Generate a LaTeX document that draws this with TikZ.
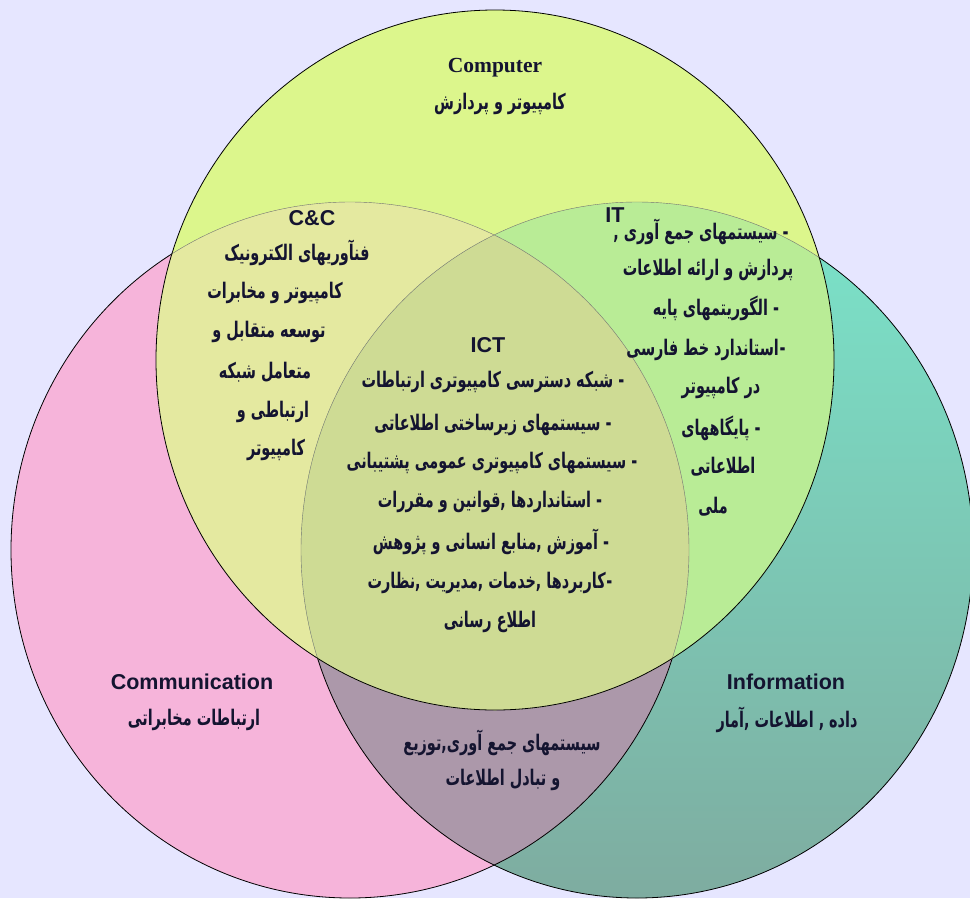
\documentclass[tikz,border=0pt]{standalone}
\usepackage{graphicx}
\usepackage{fontspec}
\setmainfont{Liberation Sans}
\newfontfamily\serifb{Liberation Serif}
\newfontfamily\fa[Script=Arabic]{DejaVu Sans}
\TeXXeTstate=1
\newcommand\RR[1]{\scalebox{0.67}[1]{\beginR #1\endR}}
\definecolor{bg}{HTML}{E6E6FF}
\definecolor{yel}{HTML}{DCF68C}
\definecolor{pnk}{HTML}{F6B4DA}
\definecolor{tealtop}{HTML}{7AE4CA}
\definecolor{tealbot}{HTML}{7EACA0}
\definecolor{lens}{HTML}{AC98AA}
\definecolor{ccreg}{HTML}{E4E9A0}
\definecolor{itreg}{HTML}{B9EC96}
\definecolor{ictreg}{HTML}{CEDB94}
\definecolor{txt}{HTML}{141430}
\tikzset{
  fatext/.style={font=\fa\bfseries\fontsize{21.5}{21.5}\selectfont, text=txt, inner sep=0pt, anchor=center},
  entext/.style={font=\bfseries\fontsize{21.5}{21.5}\selectfont, text=txt, inner sep=0pt, anchor=center},
  outer/.style={draw=black, line width=0.8pt},
  inner/.style={draw=black!55, line width=0.4pt},
}
\begin{document}
\begin{tikzpicture}[x=1pt,y=-1pt]
\useasboundingbox (0,0) rectangle (970,898);
\fill[bg] (0,0) rectangle (970,898);
% circle paths
\def\yellowc{(495,360) ellipse [x radius=339pt, y radius=350pt]}
\def\pinkc{(350,550) ellipse [x radius=339pt, y radius=348pt]}
\def\tealc{(637,550) ellipse [x radius=336pt, y radius=348pt]}
% teal
\shade[top color=tealtop, bottom color=tealbot] \tealc;
% pink
\fill[pnk] \pinkc;
\begin{scope}
  \clip \pinkc;
  \fill[lens] \tealc;
\end{scope}
\draw[outer] \tealc;
\draw[outer] \pinkc;
% yellow
\fill[yel] \yellowc;
\begin{scope}
  \clip \yellowc;
  \clip \pinkc;
  \fill[ccreg] \pinkc;
\end{scope}
\begin{scope}
  \clip \yellowc;
  \clip \tealc;
  \fill[itreg] \tealc;
\end{scope}
\begin{scope}
  \clip \yellowc;
  \clip \pinkc;
  \clip \tealc;
  \fill[ictreg] \tealc;
\end{scope}
\begin{scope}
  \clip \yellowc;
  \draw[inner] \pinkc;
  \draw[inner] \tealc;
\end{scope}
\draw[outer] \yellowc;

% Computer
\node[entext, font=\serifb\bfseries\fontsize{21.5}{21.5}\selectfont] (comp) at (495,68) {Computer};
\node[fatext] (compfa) at (500,104) {\RR{کامپیوتر و پردازش}};

% C&C
\node[entext] (cc) at (312,218) {C\&C};
\node[fatext] (cc1) at (297,253) {\RR{فنآوریهای الکترونیک}};
\node[fatext] (cc2) at (275,293) {\RR{کامپیوتر و مخابرات}};
\node[fatext] (cc3) at (269,332) {\RR{توسعه متقابل و}};
\node[fatext] (cc4) at (265,372) {\RR{متعامل شبکه}};
\node[fatext] (cc5) at (273,412) {\RR{ارتباطی و}};
\node[fatext] (cc6) at (276,450) {\RR{کامپیوتر}};

% IT
\node[entext] (it) at (615,215) {IT};
\node[fatext] (it1) at (701,232) {\RR{- سیستمهای جمع آوری ,}};
\node[fatext] (it2) at (708,270) {\RR{پردازش و ارائه اطلاعات}};
\node[fatext] (it3) at (716,308) {\RR{- الگوریتمهای پایه}};
\node[fatext] (it4) at (706,350) {\RR{-\kern1pt استاندارد خط فارسی}};
\node[fatext] (it5) at (721,388) {\RR{در کامپیوتر}};
\node[fatext] (it6) at (721,428) {\RR{- پایگاههای}};
\node[fatext] (it7) at (723,467) {\RR{اطلاعاتی}};
\node[fatext] (it8) at (713,507) {\RR{ملی}};

% ICT
\node[entext] (ict) at (488,345) {ICT};
\node[fatext] (ict1) at (493,382) {\RR{- شبکه دسترسی کامپیوتری ارتباطات}};
\node[fatext] (ict2) at (493,425) {\RR{- سیستمهای زیرساختی اطلاعاتی}};
\node[fatext] (ict3) at (492,463) {\RR{- سیستمهای کامپیوتری عمومی پشتیبانی}};
\node[fatext] (ict4) at (490,502) {\RR{- استانداردها ,\kern0pt قوانین و مقررات}};
\node[fatext] (ict5) at (491,542) {\RR{- آموزش ,\kern0pt منابع انسانی و پژوهش}};
\node[fatext] (ict6) at (490,583) {\RR{-\kern1pt کاربردها ,\kern0pt خدمات ,\kern0pt مدیریت ,\kern0pt نظارت}};
\node[fatext] (ict7) at (490,622) {\RR{اطلاع رسانی}};

% Communication
\node[entext] (comm) at (192,682) {Communication};
\node[fatext] (commfa) at (194,720) {\RR{ارتباطات مخابراتی}};

% Information
\node[entext] (info) at (786,682) {Information};
\node[fatext] (infofa) at (787,720) {\RR{داده , اطلاعات ,\kern0pt آمار}};

% bottom lens
\node[fatext] (bl1) at (502,743) {\RR{سیستمهای جمع آوری\kern0pt,\kern0pt توزیع}};
\node[fatext] (bl2) at (503,780) {\RR{و تبادل اطلاعات}};
\end{tikzpicture}
\end{document}
